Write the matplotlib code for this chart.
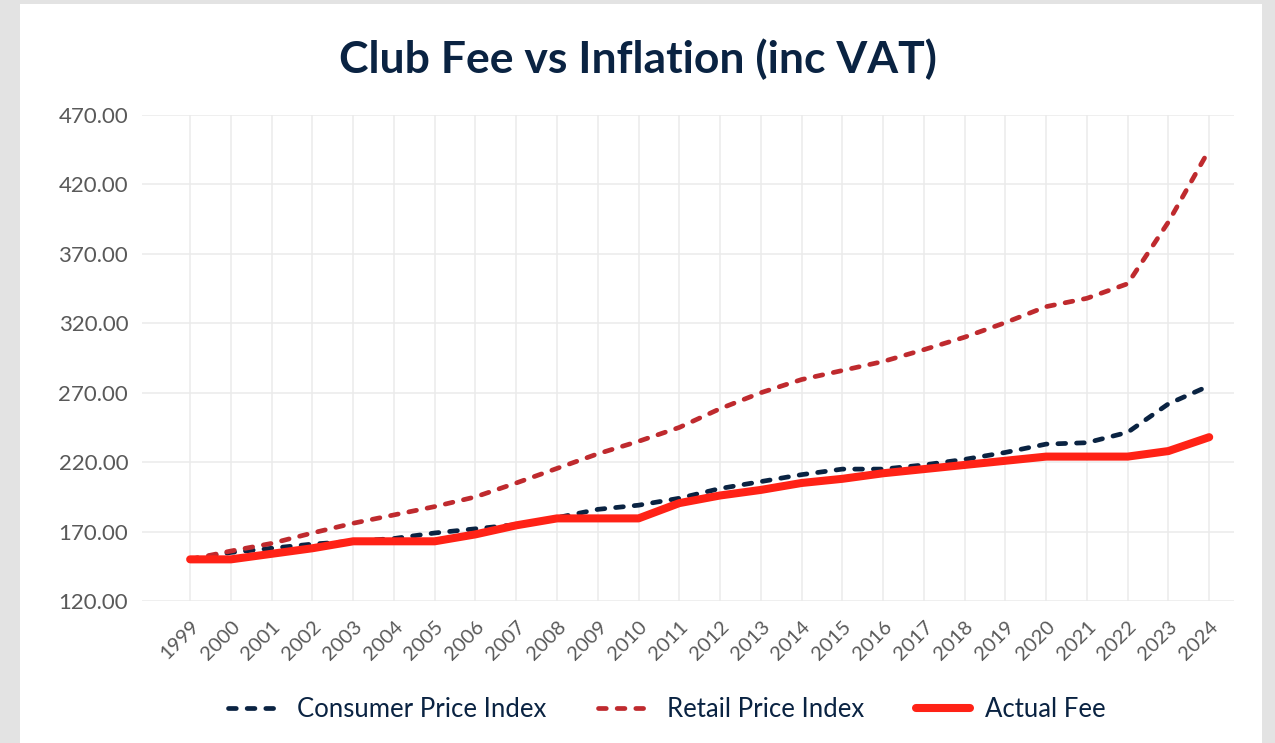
import matplotlib.pyplot as plt
from matplotlib.patches import Rectangle
from matplotlib.ticker import FormatStrFormatter

plt.rcParams['font.family'] = ['Lato', 'DejaVu Sans']

years = list(range(1999, 2025))
cpi = [150, 155, 158, 161, 163, 165, 169, 172, 175, 180, 186, 189, 194,
       201, 206, 211, 215, 215, 218, 222, 227, 233, 234, 241.5, 262, 275]
rpi = [150, 156, 161.5, 169, 176, 182, 188, 195, 205, 215.5, 226, 235, 245,
       258.5, 270, 279.5, 286, 292.5, 301, 310, 320.5, 332, 338, 348.5, 393, 445]
fee = [150, 150, 154, 158, 163, 163, 163, 168, 174.5, 179.5, 179.5, 179.5, 190.5,
       196, 200, 205, 208, 212, 215, 218, 221, 224, 224, 224, 228, 238]
yticks = [120, 170, 220, 270, 320, 370, 420, 470]

navy = '#0a2342'
rpi_col = '#bf2a2e'
fee_col = '#ff2216'

fig = plt.figure(figsize=(12.75, 7.43), dpi=100, facecolor='#e3e3e3')
fig.patches.append(Rectangle((20 / 1275, 0), 1242 / 1275, 1 - 4 / 743,
                             transform=fig.transFigure, facecolor='white',
                             edgecolor='none', zorder=-5))

ax = fig.add_axes([0.1114, 0.1911, 0.8565, 0.6541])
ax.set_zorder(2)
ax.set_facecolor('white')

dash = (0, (1.65, 2.3))
ax.plot(years, cpi, color=navy, lw=3.4, linestyle=dash,
        dash_capstyle='round', label='Consumer Price Index', zorder=3)
ax.plot(years, rpi, color=rpi_col, lw=3.4, linestyle=dash,
        dash_capstyle='round', label='Retail Price Index', zorder=3)
ax.plot(years, fee, color=fee_col, lw=5.8, solid_capstyle='round',
        solid_joinstyle='round', label='Actual Fee', zorder=4)

ax.set_xlim(1997.82, 2024.61)
ax.set_ylim(120, 470)
ax.set_yticks(yticks)
ax.yaxis.set_major_formatter(FormatStrFormatter('%.2f'))
ax.set_xticks(years)
ax.set_xticklabels([str(y) for y in years], rotation=45, ha='right',
                   rotation_mode='anchor', va='top')

ax.grid(True, color='#ebebeb', lw=1.1, zorder=0)
ax.set_axisbelow(True)
for s in ax.spines.values():
    s.set_visible(False)
ax.tick_params(axis='y', length=0, pad=10, labelsize=16, labelcolor='#595959')
ax.tick_params(axis='x', length=0, pad=12, labelsize=14.5, labelcolor='#595959')

fig.text(0.5, 0.92, 'Club Fee vs Inflation (inc VAT)', ha='center', va='center',
         fontsize=32, fontweight='bold', color=navy)

leg = fig.legend(loc='center', bbox_to_anchor=(0.523, 0.045), ncol=3, frameon=False,
                 fontsize=18.5, handlelength=2.1, columnspacing=2.0, handletextpad=0.6)
for t in leg.get_texts():
    t.set_color(navy)

fig.savefig('out.png', dpi=100, facecolor=fig.get_facecolor())
